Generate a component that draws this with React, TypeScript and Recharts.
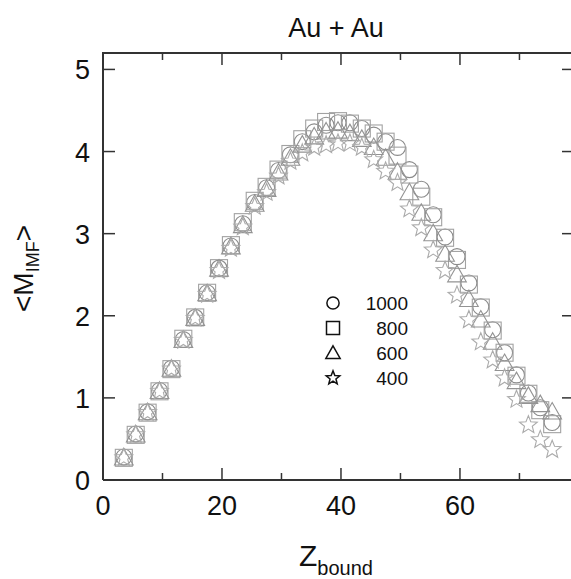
import { ScatterChart, Scatter, XAxis, YAxis, Legend } from "recharts";

// ===== DATA =====
const zBound = [
  3.5, 5.5, 7.5, 9.5, 11.5, 13.5, 15.5, 17.5, 19.5, 21.5, 23.5, 25.5, 27.5,
  29.5, 31.5, 33.5, 35.5, 37.5, 39.5, 41.5, 43.5, 45.5, 47.5, 49.5, 51.5, 53.5,
  55.5, 57.5, 59.5, 61.5, 63.5, 65.5, 67.5, 69.5, 71.5, 73.5, 75.5,
];

const m1000 = [
  0.28, 0.56, 0.83, 1.09, 1.36, 1.71, 1.98, 2.28, 2.58, 2.85, 3.12, 3.38, 3.56,
  3.77, 3.96, 4.12, 4.24, 4.32, 4.35, 4.35, 4.28, 4.2, 4.12, 4.05, 3.78, 3.54,
  3.23, 2.96, 2.72, 2.4, 2.11, 1.83, 1.55, 1.28, 1.06, 0.88, 0.7,
];
const m800 = [
  0.27, 0.55, 0.82, 1.08, 1.35, 1.72, 1.98, 2.28, 2.58, 2.86, 3.14, 3.4, 3.57,
  3.78, 3.97, 4.15, 4.28, 4.36, 4.37, 4.34, 4.28, 4.22, 4.12, 3.95, 3.72, 3.45,
  3.2, 2.95, 2.68, 2.38, 2.1, 1.82, 1.55, 1.27, 1.05, 0.85, 0.68,
];
const m600 = [
  0.27, 0.55, 0.82, 1.08, 1.35, 1.7, 1.97, 2.27, 2.57, 2.84, 3.1, 3.36, 3.54,
  3.74, 3.92, 4.08, 4.18, 4.24, 4.25, 4.22, 4.15, 4.05, 3.92, 3.75, 3.5, 3.25,
  3.0, 2.75, 2.5, 2.2, 1.95, 1.68, 1.42, 1.2, 1.02, 0.92, 0.83,
];
const m400 = [
  0.27, 0.55, 0.82, 1.08, 1.35, 1.7, 1.97, 2.26, 2.55, 2.82, 3.08, 3.33, 3.5,
  3.7, 3.88, 3.98, 4.05, 4.08, 4.1, 4.1, 4.05, 3.9, 3.76, 3.62, 3.3, 3.07, 2.8,
  2.55, 2.25, 1.95, 1.68, 1.46, 1.24, 0.98, 0.67, 0.49, 0.37,
];

const xTicks = [0, 10, 20, 30, 40, 50, 60, 70];
const yTicks = [0, 1, 2, 3, 4, 5];
const X_MAX = 79;
const Y_MAX = 5.2;

// ===== LAYOUT / STYLE =====
const CHART_W = 600;
const CHART_H = 579;
const Y_AXIS_W = 103;
const X_AXIS_H = 99;
const MARGIN = { top: 53, right: 27, bottom: 0, left: 0 };
const PLOT_LEFT = MARGIN.left + Y_AXIS_W;
const PLOT_RIGHT = CHART_W - MARGIN.right;
const PLOT_TOP = MARGIN.top;
const PLOT_BOTTOM = CHART_H - MARGIN.bottom - X_AXIS_H;

const FONT = "'Liberation Sans', Arial, Helvetica, sans-serif";
const FRAME = "#333";
const INK = "#111";

const toPoints = (vals: number[]) => zBound.map((z, i) => ({ z, m: vals[i] }));

// ===== MARKERS =====
const starPath = (cx: number, cy: number, ro: number, ri: number) => {
  let d = "";
  for (let k = 0; k < 10; k++) {
    const r = k % 2 === 0 ? ro : ri;
    const a = -Math.PI / 2 + (k * Math.PI) / 5;
    d += `${k === 0 ? "M" : "L"}${cx + r * Math.cos(a)},${cy + r * Math.sin(a)}`;
  }
  return d + "Z";
};

const drawSymbol = (kind: string, cx: number, cy: number, s: number, stroke: string, sw: number) => {
  switch (kind) {
    case "circle":
      return <circle cx={cx} cy={cy} r={s * 0.47} fill="none" stroke={stroke} strokeWidth={sw} />;
    case "square":
      return (
        <rect x={cx - s / 2} y={cy - s / 2} width={s} height={s} fill="none" stroke={stroke} strokeWidth={sw} />
      );
    case "triangle":
      return (
        <path
          d={`M${cx},${cy - s * 0.55}L${cx + s * 0.55},${cy + s * 0.42}L${cx - s * 0.55},${cy + s * 0.42}Z`}
          fill="none"
          stroke={stroke}
          strokeWidth={sw}
        />
      );
    default:
      return <path d={starPath(cx, cy, s * 0.55, s * 0.24)} fill="none" stroke={stroke} strokeWidth={sw} />;
  }
};

const SERIES = [
  { name: "1000", kind: "circle", color: "#8a8a8a", data: toPoints(m1000) },
  { name: "800", kind: "square", color: "#a2a2a2", data: toPoints(m800) },
  { name: "600", kind: "triangle", color: "#939393", data: toPoints(m600) },
  { name: "400", kind: "star", color: "#ababab", data: toPoints(m400) },
];

// ===== TICKS (inward) =====
const tickLen = (v: number) => (v % 20 === 0 ? 12 : 7);

const BottomTick = ({ x, y, payload }: any) => {
  const major = payload.value % 20 === 0;
  return (
    <g>
      <line x1={x} y1={y} x2={x} y2={y - tickLen(payload.value)} stroke={FRAME} strokeWidth={1.5} />
      {major && (
        <text x={x} y={y + 35} textAnchor="middle" fontSize={27} fontFamily={FONT} fill={INK}>
          {payload.value}
        </text>
      )}
    </g>
  );
};

const LeftTick = ({ x, y, payload }: any) => (
  <g>
    <line x1={x} y1={y} x2={x + 12} y2={y} stroke={FRAME} strokeWidth={1.5} />
    <text x={x - 13} y={y + 10} textAnchor="end" fontSize={27} fontFamily={FONT} fill={INK}>
      {payload.value}
    </text>
  </g>
);

// ===== LABELS =====
const XTitle = ({ viewBox }: any) => {
  const cx = viewBox.x + viewBox.width / 2 - 2;
  return (
    <g>
      <text x={cx} y={viewBox.y + 86} textAnchor="middle" fontFamily={FONT} fill={INK}>
        <tspan fontSize={30}>Z</tspan>
        <tspan fontSize={20} dy={9}>bound</tspan>
      </text>
      <text x={cx} y={PLOT_TOP - 16} textAnchor="middle" fontSize={27} fontFamily={FONT} fill={INK}>
        Au + Au
      </text>
    </g>
  );
};

const YTitle = ({ viewBox }: any) => {
  const cx = 33;
  const cy = viewBox.y + viewBox.height / 2 + 2;
  return (
    <text
      x={cx}
      y={cy}
      transform={`rotate(-90, ${cx}, ${cy})`}
      textAnchor="middle"
      fontFamily={FONT}
      fill={INK}
    >
      <tspan fontSize={28}>{"<M"}</tspan>
      <tspan fontSize={18} dy={6}>IMF</tspan>
      <tspan fontSize={28} dy={-6}>{">"}</tspan>
    </text>
  );
};

// ===== LEGEND =====
const renderLegend = () => (
  <svg width={100} height={100}>
    {SERIES.map((s, i) => {
      const cy = 13 + 25 * i;
      return (
        <g key={s.name}>
          {drawSymbol(s.kind, 15, cy, 13, "#111", 1.5)}
          <text x={90} y={cy + 7} textAnchor="end" fontSize={19} fontFamily={FONT} fill={INK}>
            {s.name}
          </text>
        </g>
      );
    })}
  </svg>
);

// ===== TOP / RIGHT FRAME (mirror of the axes) =====
const sx = (v: number) => PLOT_LEFT + (v / X_MAX) * (PLOT_RIGHT - PLOT_LEFT);
const sy = (v: number) => PLOT_BOTTOM - (v / Y_MAX) * (PLOT_BOTTOM - PLOT_TOP);

const FrameOverlay = () => (
  <svg
    width={CHART_W}
    height={CHART_H}
    style={{ position: "absolute", left: 0, top: 0, pointerEvents: "none" }}
  >
    <line x1={PLOT_LEFT - 1} y1={PLOT_TOP} x2={PLOT_RIGHT} y2={PLOT_TOP} stroke={FRAME} strokeWidth={2} />
    <line x1={PLOT_RIGHT} y1={PLOT_TOP} x2={PLOT_RIGHT} y2={PLOT_BOTTOM} stroke={FRAME} strokeWidth={2} />
    {xTicks.map((v) => (
      <line
        key={`t${v}`}
        x1={sx(v)}
        y1={PLOT_TOP}
        x2={sx(v)}
        y2={PLOT_TOP + tickLen(v)}
        stroke={FRAME}
        strokeWidth={1.5}
      />
    ))}
    {yTicks.map((v) => (
      <line
        key={`r${v}`}
        x1={PLOT_RIGHT}
        y1={sy(v)}
        x2={PLOT_RIGHT - 11}
        y2={sy(v)}
        stroke={FRAME}
        strokeWidth={1.5}
      />
    ))}
  </svg>
);

// ===== COMPONENT =====
export default function App() {
  return (
    <div
      style={{
        position: "absolute",
        left: 0,
        top: 0,
        width: 571,
        height: 579,
        overflow: "hidden",
        background: "#fff",
      }}
    >
      <ScatterChart width={CHART_W} height={CHART_H} margin={MARGIN}>
        <XAxis
          dataKey="z"
          type="number"
          domain={[0, X_MAX]}
          ticks={xTicks}
          interval={0}
          height={X_AXIS_H}
          tickSize={0}
          tickMargin={0}
          tickLine={false}
          tick={<BottomTick />}
          axisLine={{ stroke: FRAME, strokeWidth: 2 }}
          label={{ content: XTitle }}
        />
        <YAxis
          dataKey="m"
          type="number"
          domain={[0, Y_MAX]}
          ticks={yTicks}
          interval={0}
          width={Y_AXIS_W}
          tickSize={0}
          tickMargin={0}
          tickLine={false}
          tick={<LeftTick />}
          axisLine={{ stroke: FRAME, strokeWidth: 2 }}
          label={{ content: YTitle }}
        />
        <Legend
          verticalAlign="middle"
          align="center"
          content={renderLegend}
          wrapperStyle={{ left: 318, top: 290, width: 100, height: 100 }}
        />
        {SERIES.map((s) => (
          <Scatter
            key={s.name}
            name={s.name}
            data={s.data}
            isAnimationActive={false}
            shape={(p: any) => drawSymbol(s.kind, p.cx, p.cy, 17, s.color, 1.1)}
          />
        ))}
      </ScatterChart>
      <FrameOverlay />
    </div>
  );
}
